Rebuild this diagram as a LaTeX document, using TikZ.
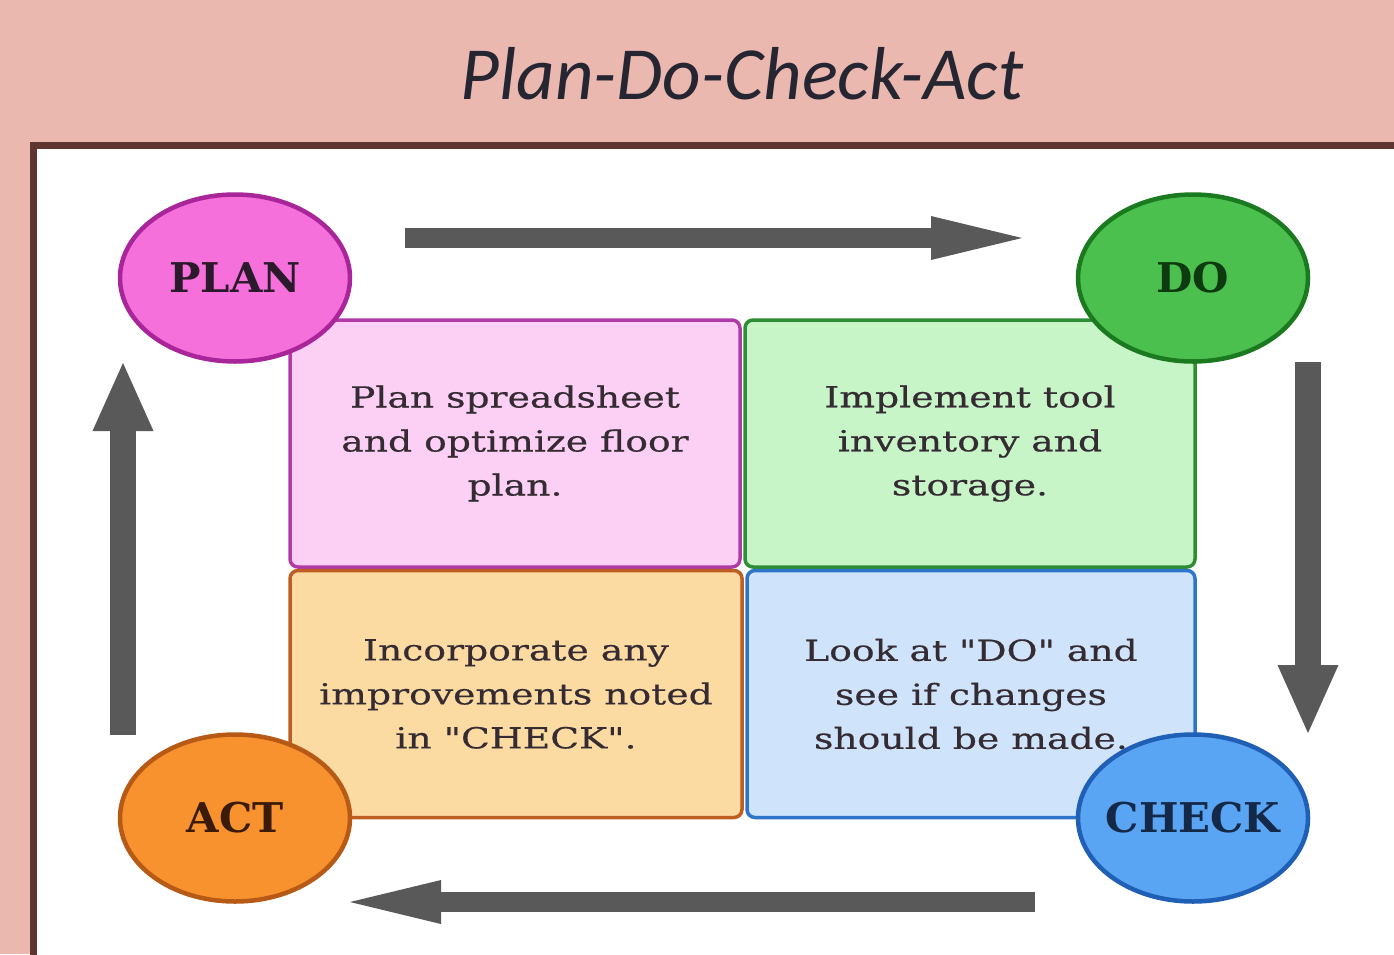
\documentclass[tikz,border=0pt]{standalone}
\usepackage{fontspec}
\usetikzlibrary{shapes.geometric,arrows.meta}
\setmainfont{DejaVu Serif}
\newfontfamily\titlefont{Carlito}
\newfontfamily\boxfont{DejaVu Serif}[FakeStretch=1.3,FakeBold=0.5,Ligatures=TeXOff]
\newfontfamily\labelfont{DejaVu Serif}[FakeStretch=1.02]

\definecolor{pagebg}{HTML}{EBB8B0}
\definecolor{framebrown}{HTML}{5F3530}
\definecolor{titleink}{HTML}{262632}
\definecolor{arrowgrey}{HTML}{595959}
\definecolor{bodyink}{HTML}{352B33}
% phase colours: circle fill, circle rim, box fill, box rim, label ink
\definecolor{planfill}{HTML}{F570DA}\definecolor{planrim}{HTML}{A8269A}
\definecolor{planbg}{HTML}{FCD0F4}\definecolor{planedge}{HTML}{B03AA6}
\definecolor{planink}{HTML}{2B1A2B}
\definecolor{dofill}{HTML}{4CC04F}\definecolor{dorim}{HTML}{1B7A1F}
\definecolor{dobg}{HTML}{C8F5C8}\definecolor{doedge}{HTML}{2F8E33}
\definecolor{doink}{HTML}{0E3A10}
\definecolor{actfill}{HTML}{F7922E}\definecolor{actrim}{HTML}{B65A16}
\definecolor{actbg}{HTML}{FCDBA3}\definecolor{actedge}{HTML}{BF5E22}
\definecolor{actink}{HTML}{3A1A08}
\definecolor{checkfill}{HTML}{5AA5F3}\definecolor{checkrim}{HTML}{1F5FB5}
\definecolor{checkbg}{HTML}{CFE4FB}\definecolor{checkedge}{HTML}{2E74C8}
\definecolor{checkink}{HTML}{142848}

\tikzset{
  stepbox/.style={rectangle, rounded corners=8pt, line width=3.5pt,
    minimum width=450pt, minimum height=247pt, inner sep=0pt,
    align=center, text=bodyink,
    font=\boxfont\fontsize{29}{44}\selectfont},
  phase/.style={ellipse, minimum width=230pt, minimum height=167pt,
    inner sep=0pt, line width=4.5pt,
    font=\labelfont\bfseries\fontsize{41}{50}\selectfont},
  harrow/.style={draw=arrowgrey, line width=20pt,
    -{Triangle[length=91pt,width=44pt,line width=0pt]}},
  varrow/.style={draw=arrowgrey, line width=26pt,
    -{Triangle[length=68pt,width=61pt,line width=0pt]}},
}

\begin{document}
\begin{tikzpicture}[x=1pt,y=-1pt]
  \clip (0,0) rectangle (1394,954);
  \fill[pagebg] (0,0) rectangle (1394,954);

  % heading
  \node[anchor=base, text=titleink,
        font=\titlefont\itshape\fontsize{75}{80}\selectfont]
    (title) at (742,99) {Plan-Do-Check-Act};

  % white panel with its dark rim
  \filldraw[fill=white, draw=framebrown, line width=7pt]
    (33.5,145.5) rectangle (1430,990);

  % the four quadrants
  \node[stepbox, fill=planbg,  draw=planedge]  (planbox)  at (515,443.5)
    {Plan spreadsheet\\and optimize floor\\plan.};
  \node[stepbox, fill=dobg,    draw=doedge]    (dobox)    at (970,443.5)
    {Implement tool\\inventory and\\storage.};
  \node[stepbox, fill=actbg,   draw=actedge, minimum width=452pt] (actbox) at (516,694)
    {Incorporate any\\improvements noted\\in "CHECK".};
  \node[stepbox, fill=checkbg, draw=checkedge, minimum width=448pt] (checkbox) at (971,694)
    {Look at "DO" and\\see if changes\\should be made.};

  % phase badges (labels kept out of the ellipse sizing)
  \node[phase, fill=planfill,  draw=planrim,  text=planink]  (plan)  at (235,278)  {\makebox[0pt]{PLAN}};
  \node[phase, fill=dofill,    draw=dorim,    text=doink]    (do)    at (1193,278) {\makebox[0pt]{DO}};
  \node[phase, fill=actfill,   draw=actrim,   text=actink]   (act)   at (235,818)  {\makebox[0pt]{ACT}};
  \node[phase, fill=checkfill, draw=checkrim, text=checkink] (check) at (1193,818) {\makebox[0pt]{CHECK}};

  % cycle arrows
  \coordinate (topstart) at (405,238);   \coordinate (topend) at (1022,238);
  \coordinate (rightstart) at (1308,362); \coordinate (rightend) at (1308,733);
  \coordinate (botstart) at (1035,902);  \coordinate (botend) at (350,902);
  \coordinate (leftstart) at (123,735);  \coordinate (leftend) at (123,363);

  \draw[harrow] (topstart) -- (topend);
  \draw[varrow] (rightstart) -- (rightend);
  \draw[harrow] (botstart) -- (botend);
  \draw[varrow] (leftstart) -- (leftend);
\end{tikzpicture}
\end{document}
